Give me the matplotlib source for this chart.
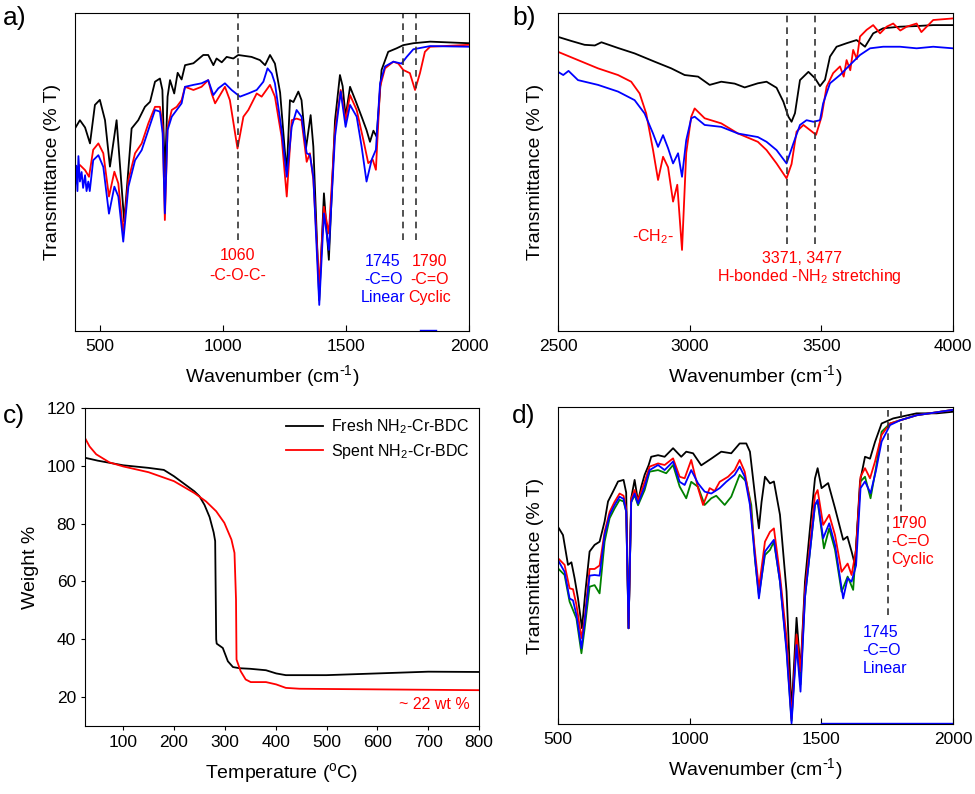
import matplotlib
matplotlib.use("Agg")
import matplotlib.pyplot as plt

plt.rcParams["font.family"] = ["Liberation Sans", "DejaVu Sans"]
plt.rcParams["mathtext.default"] = "regular"

# ---- panel a: FTIR 400-2000 cm-1 (transmittance, arbitrary 0-100 scale)
a_black_wn = [400, 420, 441, 461, 481, 501, 522, 542, 569, 600, 630, 657, 684, 705, 725, 745, 755, 765, 776, 786,
              803, 817, 833, 847, 881, 921, 941, 962, 975, 996, 1016, 1043, 1063, 1117, 1151, 1172, 1192, 1212, 1233,
              1253, 1260, 1273, 1287, 1307, 1320, 1338, 1357, 1368, 1392, 1411, 1431, 1456, 1476, 1487, 1499, 1517,
              1541, 1564, 1584, 1598, 1612, 1625, 1645, 1672, 1706, 1733, 1774, 1842, 2000]
a_black_t = [63.7, 66.3, 64.0, 59.0, 71.1, 72.7, 66.3, 51.7, 66.3, 34.4, 63.7, 66.3, 70.5, 72.1, 78.4, 79.4, 75.8, 48.5,
             73.7, 78.9, 74.7, 81.2, 79.1, 83.6, 84.2, 86.8, 86.8, 83.6, 85.7, 84.5, 86.2, 85.7, 86.8, 86.2, 85.2, 83.6,
             86.8, 84.1, 75.0, 55.9, 50.1, 72.6, 72.0, 75.3, 72.6, 57.4, 67.9, 58.0, 9.7, 43.3, 22.4, 66.3, 80.5, 77.0,
             67.4, 76.8, 72.1, 67.4, 63.2, 59.5, 63.0, 61.1, 82.1, 87.8, 88.9, 89.9, 90.5, 91.0, 90.5]

a_red_wn = [400, 420, 441, 457, 474, 495, 515, 538, 560, 576, 596, 617, 644, 671, 698, 725, 745, 756, 765, 776, 793,
            813, 833, 847, 881, 914, 941, 955, 969, 989, 1009, 1029, 1060, 1084, 1104, 1138, 1158, 1192, 1212, 1239,
            1260, 1280, 1300, 1320, 1341, 1354, 1368, 1392, 1411, 1431, 1456, 1479, 1499, 1517, 1544, 1571, 1591,
            1609, 1622, 1639, 1659, 1693, 1713, 1733, 1760, 1781, 1801, 1821, 1842, 2000]
a_red_t = [50.6, 52.2, 50.6, 48.5, 57.0, 59.0, 55.9, 42.3, 50.1, 46.4, 30.7, 47.5, 55.9, 59.0, 65.3, 70.5, 70.5, 64.3,
           34.9, 64.0, 69.5, 70.5, 72.6, 76.8, 75.8, 76.8, 78.9, 74.7, 71.6, 74.2, 76.8, 72.6, 57.4, 67.4, 69.5, 74.7,
           73.7, 77.4, 73.7, 61.1, 42.3, 66.3, 66.8, 66.3, 53.2, 55.9, 47.5, 13.8, 39.1, 30.7, 63.2, 75.8, 66.3, 74.2,
           69.5, 60.1, 52.8, 53.9, 50.7, 76.8, 82.6, 84.7, 84.1, 82.1, 81.1, 75.8, 81.1, 87.8, 89.4, 90.0]

a_blue_wn = [400, 405, 410, 414, 420, 427, 433, 441, 447, 454, 460, 474, 495, 515, 538, 560, 576, 596, 617, 644, 671,
             698, 725, 745, 756, 765, 776, 793, 813, 833, 847, 881, 914, 941, 962, 982, 1009, 1036, 1070, 1104, 1138,
             1165, 1182, 1199, 1212, 1239, 1260, 1280, 1300, 1320, 1341, 1354, 1368, 1392, 1411, 1431, 1456, 1479,
             1499, 1517, 1544, 1564, 1584, 1605, 1622, 1639, 1659, 1693, 1726, 1747, 1774, 1842, 2000]
a_blue_t = [45.0, 52.0, 44.0, 55.0, 47.0, 50.0, 45.0, 49.0, 44.0, 47.0, 44.0, 53.7, 55.3, 51.6, 36.9, 45.4, 42.3, 28.1,
            45.4, 53.7, 56.9, 63.2, 69.5, 69.0, 62.2, 37.0, 63.2, 67.4, 69.5, 71.6, 76.8, 77.4, 77.9, 78.9, 74.2, 76.3,
            77.9, 75.8, 73.7, 74.7, 75.8, 78.4, 82.6, 81.0, 77.9, 63.2, 48.5, 64.2, 69.5, 67.4, 55.9, 55.4, 48.5, 8.2,
            37.0, 25.5, 61.1, 75.3, 64.2, 71.1, 67.4, 58.0, 47.0, 53.9, 57.0, 77.9, 83.2, 84.7, 84.1, 86.2, 88.6, 89.6,
            89.4]

# ---- panel b: FTIR 2500-4000 cm-1
b_black_wn = [2500, 2551, 2601, 2640, 2665, 2728, 2791, 2867, 2930, 2981, 3032, 3076, 3120, 3171, 3209, 3259, 3292,
              3330, 3356, 3375, 3387, 3400, 3419, 3451, 3476, 3495, 3514, 3533, 3558, 3596, 3634, 3666, 3697, 3735,
              3799, 3862, 3925, 4000]
b_black_t = [92.5, 91.2, 90.0, 89.8, 90.8, 89.0, 87.3, 84.7, 82.6, 80.5, 80.0, 77.4, 78.4, 77.8, 76.6, 77.9, 78.4,
             76.5, 72.1, 67.4, 65.8, 68.5, 78.9, 81.5, 79.5, 77.0, 79.0, 86.3, 89.4, 90.5, 91.5, 89.4, 93.6, 95.2,
             95.7, 95.9, 96.2, 96.2]

b_red_wn = [2500, 2576, 2652, 2728, 2778, 2810, 2835, 2861, 2880, 2899, 2918, 2937, 2953, 2971, 2987, 3006, 3019,
            3057, 3120, 3184, 3259, 3292, 3330, 3368, 3387, 3406, 3432, 3457, 3480, 3501, 3520, 3545, 3571, 3585,
            3596, 3610, 3621, 3635, 3647, 3672, 3697, 3723, 3748, 3773, 3800, 3824, 3862, 3880, 3925, 4000]
b_red_t = [87.8, 85.2, 82.6, 80.5, 78.4, 74.7, 68.4, 56.9, 47.5, 54.8, 51.5, 40.7, 46.0, 25.5, 56.0, 67.4, 70.0, 66.9,
           65.3, 62.1, 59.5, 56.9, 52.7, 48.0, 52.5, 62.7, 64.8, 63.2, 61.7, 67.4, 76.8, 81.1, 83.2, 80.0, 85.2, 82.0,
           88.4, 85.5, 92.6, 94.7, 96.2, 93.6, 95.7, 96.7, 94.5, 95.7, 96.7, 94.0, 97.8, 98.3]

b_blue_wn = [2500, 2520, 2540, 2576, 2652, 2728, 2791, 2829, 2861, 2880, 2899, 2918, 2937, 2956, 2971, 2987, 3006,
             3019, 3057, 3120, 3184, 3259, 3292, 3330, 3368, 3394, 3419, 3444, 3470, 3495, 3507, 3533, 3571, 3609,
             3647, 3685, 3735, 3799, 3862, 3925, 4000]
b_blue_t = [81.5, 80.5, 81.8, 78.9, 77.4, 75.3, 72.6, 68.4, 62.1, 57.9, 61.6, 57.5, 52.7, 55.9, 48.5, 60.0, 66.9,
            67.4, 64.8, 64.2, 62.1, 61.0, 59.5, 56.9, 52.7, 59.0, 64.8, 66.3, 65.8, 66.3, 71.6, 77.9, 80.5, 83.7,
            86.8, 88.9, 89.4, 89.4, 88.9, 89.4, 88.9]

# ---- panel c: TGA
c_fresh_temp = [25, 50, 100, 150, 180, 200, 240, 250, 260, 270, 278, 281, 283, 284, 296, 306, 316, 329, 350, 381,
                401, 420, 500, 600, 700, 800]
c_fresh_wt = [102.8, 101.8, 100.2, 99.3, 98.6, 96.4, 91.2, 89.5, 86.5, 82.3, 77.0, 74.0, 40.0, 38.5, 37.0, 32.4,
              30.4, 30.0, 29.8, 29.3, 28.2, 27.6, 27.6, 28.2, 28.8, 28.7]
c_spent_temp = [25, 34, 47, 73, 100, 150, 200, 240, 263, 283, 299, 313, 319, 322, 323, 331, 341, 351, 381, 401, 420,
                447, 513, 800]
c_spent_wt = [109.6, 106.7, 104.0, 101.2, 99.8, 97.8, 94.7, 90.6, 87.7, 84.3, 80.3, 74.5, 69.9, 53.8, 33.0, 29.0,
              26.1, 25.2, 25.2, 24.4, 23.2, 22.9, 22.8, 22.4]

# ---- panel d: FTIR 500-2000 cm-1, four samples
d_black_wn = [500, 519, 538, 551, 563, 576, 591, 604, 620, 639, 658, 677, 690, 709, 728, 749, 759, 768, 778, 791, 804,
              816, 829, 844, 854, 880, 905, 937, 968, 987, 1013, 1044, 1082, 1120, 1158, 1190, 1215, 1229, 1248, 1263,
              1273, 1286, 1305, 1320, 1343, 1368, 1387, 1406, 1421, 1438, 1457, 1476, 1486, 1501, 1526, 1552, 1583,
              1599, 1615, 1628, 1647, 1666, 1685, 1704, 1729, 1773, 1862, 1938, 2000]
d_black_t = [62.2, 59.6, 50.2, 51.0, 46.0, 39.6, 30.2, 41.8, 54.4, 56.5, 57.5, 63.9, 70.2, 73.3, 76.5, 77.0, 73.0, 30.2,
             71.2, 77.0, 70.2, 74.8, 78.6, 81.6, 84.3, 84.8, 84.3, 87.0, 84.3, 85.9, 85.4, 81.6, 83.7, 85.9, 85.4, 88.5,
             88.5, 85.9, 72.2, 61.7, 70.0, 78.0, 75.9, 76.5, 66.0, 41.8, 4.0, 33.5, 16.6, 44.9, 61.7, 77.5, 80.7, 74.4,
             76.0, 68.1, 58.1, 59.1, 54.4, 50.2, 76.5, 84.3, 83.7, 89.0, 94.8, 96.4, 98.0, 98.0, 98.5]

d_red_wn = [500, 525, 544, 557, 570, 589, 601, 620, 639, 658, 677, 696, 715, 734, 749, 759, 768, 778, 791, 804, 829,
            848, 880, 905, 937, 962, 981, 1006, 1032, 1051, 1076, 1095, 1114, 1146, 1171, 1190, 1209, 1229, 1248,
            1263, 1286, 1305, 1320, 1343, 1368, 1387, 1406, 1421, 1438, 1457, 1476, 1486, 1507, 1530, 1552, 1577,
            1600, 1615, 1632, 1649, 1666, 1685, 1704, 1729, 1761, 1799, 1862, 2000]
d_red_t = [52.3, 50.2, 42.8, 42.5, 37.6, 27.1, 33.0, 48.9, 48.9, 50.0, 60.6, 66.9, 70.1, 72.7, 72.0, 68.0, 30.2, 71.0,
           73.8, 70.5, 76.4, 81.2, 82.2, 81.7, 83.8, 78.0, 77.5, 83.3, 74.4, 69.1, 74.4, 73.5, 76.4, 78.0, 80.1, 83.3,
           79.6, 70.1, 54.4, 42.8, 57.5, 60.6, 61.7, 47.0, 27.1, 1.8, 28.2, 16.6, 42.0, 56.5, 72.2, 73.8, 62.8, 66.0,
           59.6, 48.0, 50.6, 47.0, 55.0, 78.0, 80.7, 77.5, 82.8, 91.2, 94.8, 95.8, 97.4, 99.1]

d_blue_wn = [500, 525, 544, 557, 570, 589, 601, 620, 639, 658, 677, 696, 715, 734, 749, 759, 768, 778, 791, 804, 829,
             848, 880, 905, 937, 962, 981, 1006, 1032, 1057, 1082, 1114, 1139, 1171, 1190, 1209, 1229, 1248, 1263,
             1286, 1305, 1320, 1343, 1368, 1387, 1406, 1421, 1438, 1457, 1476, 1486, 1507, 1530, 1552, 1583, 1600,
             1615, 1632, 1649, 1666, 1687, 1707, 1729, 1761, 1799, 1862, 2000]
d_blue_t = [51.7, 48.0, 39.6, 39.0, 34.4, 23.9, 32.0, 46.8, 47.0, 46.8, 59.6, 65.9, 69.1, 71.7, 71.0, 67.0, 30.2, 70.0,
            72.7, 69.5, 74.9, 80.1, 81.7, 80.1, 82.8, 76.4, 75.4, 80.1, 75.9, 73.3, 72.7, 74.4, 76.4, 78.6, 81.2, 78.0,
            69.1, 52.3, 39.6, 54.4, 56.5, 58.1, 44.9, 22.8, 0.2, 24.9, 10.2, 40.0, 54.4, 69.1, 70.7, 58.6, 63.3, 56.5,
            39.6, 46.0, 44.9, 50.0, 74.4, 76.5, 72.8, 79.7, 89.1, 94.3, 95.8, 97.4, 99.1]

d_green_wn = [500, 525, 544, 570, 589, 601, 620, 639, 658, 677, 696, 715, 734, 749, 759, 768, 778, 791, 804, 829, 848,
              880, 911, 937, 962, 987, 1006, 1032, 1057, 1082, 1101, 1133, 1158, 1190, 1215, 1234, 1248, 1263, 1286,
              1305, 1320, 1343, 1368, 1387, 1406, 1421, 1438, 1457, 1476, 1486, 1510, 1530, 1552, 1577, 1600, 1621,
              1649, 1666, 1687, 1707, 1729, 1761, 1799, 1862, 2000]
d_green_t = [49.1, 47.0, 38.6, 33.3, 22.3, 30.0, 43.3, 43.8, 41.2, 57.5, 64.9, 68.0, 70.7, 70.2, 67.0, 30.2, 70.0,
             72.2, 69.0, 73.8, 79.6, 80.1, 79.1, 81.7, 74.9, 71.2, 76.4, 74.8, 69.1, 71.2, 72.0, 69.1, 71.7, 78.6,
             76.5, 69.1, 52.0, 40.7, 53.3, 54.9, 57.5, 45.0, 23.8, 1.0, 26.5, 12.5, 40.0, 54.4, 69.1, 70.2, 55.4,
             61.7, 55.0, 41.7, 46.5, 42.3, 76.5, 78.0, 71.2, 80.5, 92.2, 94.8, 95.8, 97.4, 99.1]

dash_kw = dict(color="#333333", linestyle=(0, (4, 3)), linewidth=1.2)
lw = 1.3
wn_label = r"Wavenumber (cm$^{\text{-}1}$)"

fig = plt.figure(figsize=(9.75, 7.94), dpi=100)


def style_ir(ax, xlim, ticks):
    ax.set_xlim(*xlim)
    ax.set_ylim(0, 100)
    ax.set_xticks(ticks)
    ax.set_yticks([])
    ax.tick_params(axis="x", direction="in", length=4, labelsize=12.5, pad=6)
    ax.set_xlabel(wn_label, fontsize=14, labelpad=6)
    ax.set_ylabel("Transmittance (% T)", fontsize=14, labelpad=10)


# a)
ax = fig.add_axes([0.0769, 0.5831, 0.4041, 0.4005])
ax.plot(a_black_wn, a_black_t, color="black", lw=lw)
ax.plot(a_red_wn, a_red_t, color="red", lw=lw)
ax.plot(a_blue_wn, a_blue_t, color="blue", lw=lw)
for xv in [1060, 1731, 1783]:
    ax.plot([xv, xv], [28.6, 100], **dash_kw)
ax.plot([1800, 1867], [0.2, 0.2], color="blue", lw=1.0)
ax.text(1060, 23.9, "1060", color="red", fontsize=11.5, ha="center", va="center")
ax.text(1060, 17.6, "-C-O-C-", color="red", fontsize=11.5, ha="center", va="center")
ax.text(1651, 24.3, "1745\n-C=O\nLinear", color="blue", fontsize=11.5, ha="center", va="top", linespacing=1.25)
ax.text(1840, 24.3, "1790\n-C=O\nCyclic", color="red", fontsize=11.5, ha="center", va="top", linespacing=1.25)
style_ir(ax, (400, 2000), [500, 1000, 1500, 2000])
fig.text(0.003, 0.977, "a)", fontsize=19, va="center")

# b)
ax = fig.add_axes([0.5723, 0.5831, 0.4051, 0.4005])
ax.plot(b_black_wn, b_black_t, color="black", lw=lw)
ax.plot(b_red_wn, b_red_t, color="red", lw=lw)
ax.plot(b_blue_wn, b_blue_t, color="blue", lw=lw)
for xv in [3371, 3477]:
    ax.plot([xv, xv], [27.5, 100], **dash_kw)
ax.text(2861, 29.6, "-CH$_2$-", color="red", fontsize=11.5, ha="center", va="center")
ax.text(3425, 22.8, "3371, 3477", color="red", fontsize=11.5, ha="center", va="center")
ax.text(3455, 17.1, "H-bonded -NH$_2$ stretching", color="red", fontsize=11.5, ha="center", va="center")
style_ir(ax, (2500, 4000), [2500, 3000, 3500, 4000])
fig.text(0.525, 0.977, "b)", fontsize=19, va="center")

# c)
ax = fig.add_axes([0.0872, 0.0856, 0.4041, 0.4005])
ax.plot(c_fresh_temp, c_fresh_wt, color="black", lw=lw, label="Fresh NH$_2$-Cr-BDC")
ax.plot(c_spent_temp, c_spent_wt, color="red", lw=lw, label="Spent NH$_2$-Cr-BDC")
ax.text(713, 17.5, "~ 22 wt %", color="red", fontsize=11.5, ha="center", va="center")
ax.set_xlim(25, 800)
ax.set_ylim(10, 120)
ax.set_xticks([100, 200, 300, 400, 500, 600, 700, 800])
ax.set_yticks([20, 40, 60, 80, 100, 120])
ax.tick_params(direction="out", length=3, labelsize=12.5)
ax.set_xlabel("Temperature ($^{o}$C)", fontsize=14, labelpad=8)
ax.set_ylabel("Weight %", fontsize=14, labelpad=6)
ax.legend(loc="upper right", frameon=False, fontsize=11.5, handlelength=2.3,
          borderaxespad=0.2, labelspacing=0.35, handletextpad=0.5)
fig.text(0.003, 0.476, "c)", fontsize=19, va="center")

# d)
ax = fig.add_axes([0.5723, 0.0882, 0.4051, 0.3992])
ax.plot(d_green_wn, d_green_t, color="green", lw=lw)
ax.plot(d_black_wn, d_black_t, color="black", lw=lw)
ax.plot(d_red_wn, d_red_t, color="red", lw=lw)
ax.plot(d_blue_wn, d_blue_t, color="blue", lw=lw)
ax.plot([1752, 1752], [34.4, 100], **dash_kw)
ax.plot([1801, 1801], [63.3, 100], **dash_kw)
ax.plot([1500, 2000], [0.2, 0.2], color="blue", lw=1.0)
ax.text(1767, 57.5, "1790\n-C=O\nCyclic", color="red", fontsize=11.5, ha="left", va="center", linespacing=1.25)
ax.text(1657, 23.3, "1745\n-C=O\nLinear", color="blue", fontsize=11.5, ha="left", va="center", linespacing=1.25)
style_ir(ax, (500, 2000), [500, 1000, 1500, 2000])
fig.text(0.525, 0.476, "d)", fontsize=19, va="center")

fig.savefig("out.png", dpi=100)
plt.close(fig)
